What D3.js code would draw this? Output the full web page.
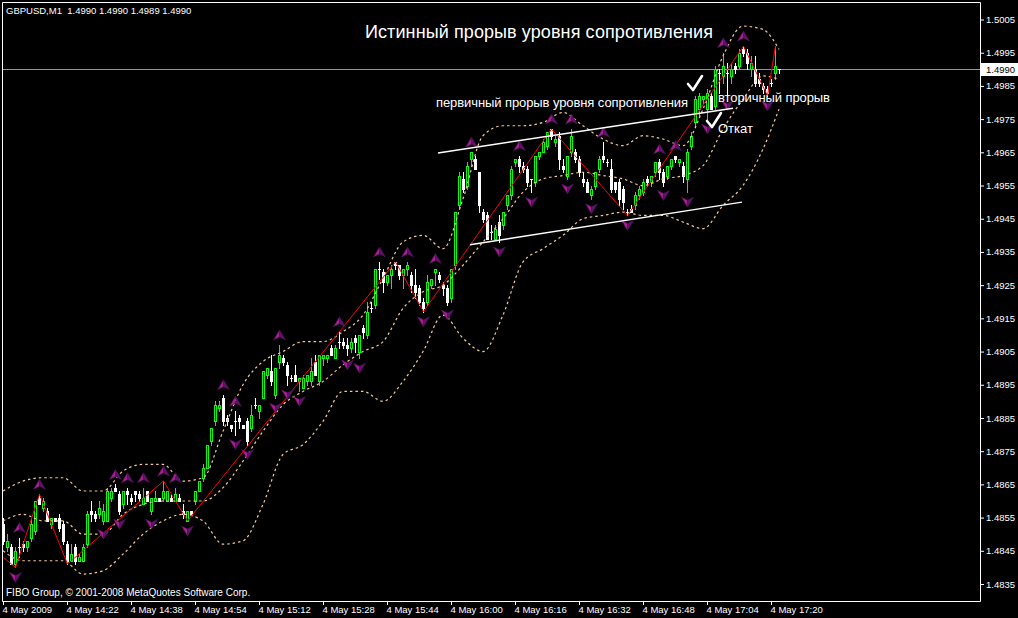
<!DOCTYPE html>
<html>
<head>
<meta charset="utf-8">
<script src="https://cdn.jsdelivr.net/npm/d3@7/dist/d3.min.js"></script>
<style>
html,body{margin:0;padding:0;background:#000;overflow:hidden;}
svg{display:block;}
text{font-family:"Liberation Sans",Arial,sans-serif;}
</style>
</head>
<body>
<svg id="chart" width="1018" height="618"></svg>
<script>
const headerText = "GBPUSD,M1  1.4990 1.4990 1.4989 1.4990";
const footerText = "FIBO Group, \u00A9 2001-2008 MetaQuotes Software Corp.";
const titleText = "Истинный прорыв уровня сопротивления";
const noteTexts = ["первичный прорыв уровня сопротивления", "вторичный прорыв", "Откат"];

const priceTicks = [1.4835,1.4845,1.4855,1.4865,1.4875,1.4885,1.4895,1.4905,1.4915,1.4925,1.4935,1.4945,1.4955,1.4965,1.4975,1.4985,1.4995,1.5005];
const timeTickIndex = [0,16,32,48,64,80,96,112,128,144,160,176,192];
const timeTickLabels = ["4 May 2009","4 May 14:22","4 May 14:38","4 May 14:54","4 May 15:12","4 May 15:28","4 May 15:44","4 May 16:00","4 May 16:16","4 May 16:32","4 May 16:48","4 May 17:04","4 May 17:20"];
const currentPrice = 1.4990;

const opens = [
1.4853,1.4846,1.4846,1.4841,1.4846,1.4847,1.4846,1.4849,1.4851,1.4861,
1.4858,1.4857,1.4853,1.4855,1.4855,1.4853,1.4847,1.4842,1.4846,1.4842,
1.4842,1.4847,1.4857,1.4856,1.4856,1.4854,1.4854,1.4861,1.4864,1.4862,
1.4859,1.4863,1.4861,1.4863,1.4862,1.4859,1.4863,1.4857,1.4860,1.4861,
1.4861,1.4860,1.4861,1.4860,1.4861,1.4857,1.4854,1.4857,1.4860,1.4863,
1.4867,1.4870,1.4878,1.4884,1.4888,1.4891,1.4885,1.4883,1.4884,1.4885,
1.4883,1.4884,1.4882,1.4889,1.4887,1.4891,1.4898,1.4899,1.4892,1.4902,
1.4903,1.4901,1.4897,1.4898,1.4896,1.4894,1.4896,1.4896,1.4902,1.4896,
1.4903,1.4903,1.4906,1.4903,1.4908,1.4908,1.4907,1.4906,1.4909,1.4905,
1.4912,1.4910,1.4918,1.4919,1.4930,1.4929,1.4926,1.4928,1.4932,1.4931,
1.4928,1.4930,1.4928,1.4925,1.4924,1.4920,1.4920,1.4925,1.4929,1.4928,
1.4925,1.4924,1.4921,1.4931,1.4949,1.4957,1.4955,1.4963,1.4963,1.4959,
1.4947,1.4946,1.4941,1.4939,1.4944,1.4943,1.4949,1.4952,1.4962,1.4963,
1.4961,1.4960,1.4957,1.4956,1.4964,1.4965,1.4967,1.4972,1.4968,1.4970,
1.4961,1.4958,1.4965,1.4965,1.4963,1.4957,1.4956,1.4952,1.4955,1.4960,
1.4964,1.4962,1.4960,1.4956,1.4956,1.4954,1.4947,1.4948,1.4949,1.4952,
1.4953,1.4957,1.4956,1.4959,1.4962,1.4959,1.4958,1.4961,1.4964,1.4962,
1.4961,1.4957,1.4967,1.4974,1.4978,1.4981,1.4978,1.4982,1.4979,1.4989,
1.4988,1.4989,1.4988,1.4991,1.4991,1.4996,1.4995,1.4990,1.4990,1.4987,
1.4985,1.4984,1.4986,1.4989,1.4990];
const highs = [
1.4855,1.4850,1.4847,1.4846,1.4849,1.4848,1.4848,1.4855,1.4860,1.4862,
1.4861,1.4858,1.4855,1.4855,1.4856,1.4854,1.4848,1.4847,1.4847,1.4844,
1.4847,1.4857,1.4860,1.4857,1.4860,1.4859,1.4864,1.4864,1.4865,1.4863,
1.4863,1.4864,1.4862,1.4863,1.4863,1.4864,1.4863,1.4861,1.4863,1.4861,
1.4866,1.4863,1.4862,1.4864,1.4862,1.4859,1.4857,1.4857,1.4863,1.4866,
1.4871,1.4877,1.4882,1.4890,1.4890,1.4892,1.4886,1.4883,1.4887,1.4886,
1.4883,1.4885,1.4889,1.4891,1.4889,1.4899,1.4900,1.4904,1.4900,1.4907,
1.4904,1.4902,1.4898,1.4901,1.4897,1.4898,1.4898,1.4903,1.4904,1.4904,
1.4904,1.4904,1.4907,1.4907,1.4911,1.4909,1.4909,1.4909,1.4910,1.4910,
1.4913,1.4920,1.4920,1.4930,1.4932,1.4930,1.4928,1.4931,1.4932,1.4931,
1.4930,1.4932,1.4929,1.4930,1.4925,1.4921,1.4928,1.4927,1.4930,1.4929,
1.4926,1.4925,1.4930,1.4947,1.4959,1.4959,1.4962,1.4965,1.4964,1.4959,
1.4948,1.4947,1.4943,1.4943,1.4946,1.4947,1.4952,1.4961,1.4963,1.4964,
1.4962,1.4961,1.4957,1.4964,1.4965,1.4969,1.4971,1.4972,1.4970,1.4971,
1.4963,1.4964,1.4972,1.4966,1.4964,1.4959,1.4957,1.4955,1.4959,1.4964,
1.4968,1.4963,1.4963,1.4956,1.4957,1.4955,1.4948,1.4949,1.4953,1.4955,
1.4957,1.4958,1.4958,1.4962,1.4963,1.4960,1.4961,1.4963,1.4964,1.4963,
1.4962,1.4966,1.4971,1.4982,1.4983,1.4982,1.4984,1.4983,1.4991,1.4990,
1.4995,1.4992,1.4992,1.4992,1.4996,1.4997,1.4996,1.4994,1.4994,1.4989,
1.4986,1.4985,1.4987,1.4997,1.4990];
const lows = [
1.4847,1.4845,1.4841,1.4840,1.4843,1.4845,1.4845,1.4848,1.4850,1.4859,
1.4857,1.4854,1.4852,1.4854,1.4851,1.4847,1.4841,1.4842,1.4841,1.4842,
1.4842,1.4846,1.4854,1.4854,1.4855,1.4853,1.4854,1.4860,1.4863,1.4856,
1.4858,1.4859,1.4859,1.4860,1.4860,1.4859,1.4860,1.4856,1.4860,1.4860,
1.4860,1.4860,1.4860,1.4860,1.4860,1.4855,1.4854,1.4856,1.4859,1.4863,
1.4866,1.4870,1.4877,1.4883,1.4887,1.4883,1.4883,1.4881,1.4880,1.4882,
1.4882,1.4877,1.4881,1.4888,1.4885,1.4891,1.4897,1.4895,1.4891,1.4900,
1.4901,1.4895,1.4896,1.4896,1.4893,1.4894,1.4895,1.4895,1.4898,1.4895,
1.4901,1.4902,1.4904,1.4903,1.4906,1.4906,1.4904,1.4905,1.4905,1.4903,
1.4909,1.4909,1.4917,1.4918,1.4927,1.4923,1.4925,1.4924,1.4930,1.4927,
1.4924,1.4928,1.4923,1.4921,1.4919,1.4917,1.4919,1.4924,1.4925,1.4926,
1.4922,1.4919,1.4920,1.4930,1.4948,1.4953,1.4954,1.4961,1.4960,1.4947,
1.4944,1.4939,1.4939,1.4939,1.4938,1.4942,1.4948,1.4951,1.4961,1.4959,
1.4959,1.4955,1.4953,1.4955,1.4963,1.4965,1.4966,1.4969,1.4967,1.4960,
1.4959,1.4957,1.4964,1.4962,1.4958,1.4955,1.4953,1.4951,1.4954,1.4959,
1.4962,1.4961,1.4953,1.4953,1.4949,1.4948,1.4946,1.4947,1.4948,1.4951,
1.4952,1.4955,1.4955,1.4958,1.4957,1.4955,1.4957,1.4960,1.4962,1.4961,
1.4956,1.4953,1.4966,1.4973,1.4976,1.4980,1.4975,1.4978,1.4978,1.4983,
1.4986,1.4982,1.4986,1.4989,1.4990,1.4994,1.4990,1.4988,1.4985,1.4985,
1.4983,1.4982,1.4985,1.4987,1.4989];
const closes = [
1.4848,1.4848,1.4841,1.4845,1.4846,1.4846,1.4848,1.4853,1.4860,1.4859,
1.4860,1.4854,1.4855,1.4854,1.4852,1.4848,1.4842,1.4844,1.4842,1.4843,
1.4846,1.4856,1.4856,1.4855,1.4858,1.4857,1.4863,1.4863,1.4863,1.4857,
1.4863,1.4862,1.4860,1.4862,1.4861,1.4861,1.4860,1.4861,1.4861,1.4860,
1.4863,1.4863,1.4860,1.4862,1.4860,1.4856,1.4857,1.4856,1.4863,1.4866,
1.4870,1.4877,1.4882,1.4889,1.4889,1.4884,1.4884,1.4882,1.4884,1.4884,
1.4882,1.4878,1.4886,1.4889,1.4889,1.4899,1.4900,1.4896,1.4900,1.4904,
1.4902,1.4898,1.4897,1.4896,1.4897,1.4897,1.4898,1.4899,1.4898,1.4904,
1.4904,1.4904,1.4904,1.4906,1.4908,1.4907,1.4906,1.4908,1.4908,1.4910,
1.4911,1.4917,1.4918,1.4930,1.4930,1.4926,1.4928,1.4930,1.4931,1.4928,
1.4930,1.4931,1.4925,1.4923,1.4920,1.4918,1.4926,1.4927,1.4930,1.4927,
1.4924,1.4920,1.4930,1.4947,1.4958,1.4954,1.4961,1.4965,1.4960,1.4949,
1.4945,1.4939,1.4941,1.4942,1.4940,1.4947,1.4952,1.4960,1.4963,1.4961,
1.4960,1.4956,1.4957,1.4964,1.4965,1.4968,1.4971,1.4970,1.4969,1.4963,
1.4960,1.4964,1.4970,1.4963,1.4959,1.4956,1.4953,1.4954,1.4959,1.4963,
1.4963,1.4962,1.4954,1.4954,1.4951,1.4950,1.4947,1.4947,1.4952,1.4954,
1.4956,1.4956,1.4958,1.4962,1.4959,1.4956,1.4961,1.4963,1.4963,1.4963,
1.4958,1.4965,1.4970,1.4981,1.4982,1.4982,1.4983,1.4978,1.4990,1.4989,
1.4991,1.4989,1.4990,1.4990,1.4995,1.4995,1.4992,1.4992,1.4986,1.4986,
1.4984,1.4983,1.4986,1.4991,1.4990];

// Bollinger bands read every 5 bars
const bandIndex = [0,5,10,15,20,25,30,35,40,45,50,55,60,65,70,75,80,85,90,95,100,105,110,115,120,125,130,135,140,145,150,155,160,165,170,175,180,185,190,194];
const bandUpper = [1.4863,1.4866,1.4867,1.4867,1.4863,1.4863,1.4869,1.4871,1.4871,1.4866,1.4867,1.4881,1.4895,1.4902,1.4905,1.4908,1.4908,1.4911,1.4916,1.4927,1.4938,1.4940,1.4936,1.4951,1.4970,1.4973,1.4973,1.4974,1.4977,1.4973,1.4969,1.4967,1.4970,1.4969,1.4967,1.4978,1.4994,1.5003,1.5002,1.4996];
const bandMiddle = [1.4854,1.4856,1.4854,1.4854,1.4850,1.4850,1.4856,1.4859,1.4860,1.4860,1.4860,1.4864,1.4872,1.4881,1.4889,1.4893,1.4896,1.4901,1.4905,1.4908,1.4918,1.4923,1.4925,1.4931,1.4938,1.4945,1.4953,1.4957,1.4958,1.4959,1.4958,1.4957,1.4955,1.4957,1.4958,1.4961,1.4972,1.4981,1.4988,1.4987];
const bandLower = [1.4845,1.4842,1.4842,1.4842,1.4838,1.4839,1.4844,1.4850,1.4854,1.4856,1.4854,1.4847,1.4848,1.4859,1.4874,1.4877,1.4884,1.4893,1.4893,1.4890,1.4896,1.4905,1.4916,1.4909,1.4905,1.4916,1.4932,1.4936,1.4940,1.4945,1.4946,1.4947,1.4946,1.4946,1.4944,1.4942,1.4949,1.4955,1.4966,1.4978];

const zigzagIndex = [0,3,9,16,40,46,98,105,137,156,185,191,193];
const zigzagPrice = [1.4843,1.4840,1.4862,1.4841,1.4866,1.4854,1.4932,1.4917,1.4972,1.4946,1.4997,1.4982,1.4997];

const fractalUp = [4,9,28,31,35,40,43,55,58,69,84,94,101,108,117,129,137,142,150,164,168,180,185];
const fractalDown = [3,25,29,37,46,58,61,68,71,74,86,89,105,111,124,132,141,147,156,165,171,176,181,191];

// hand-drawn trend channel (bar index, price)
const channelUpper = [[108.75,1.49648],[182.5,1.49783]];
const channelLower = [[116.75,1.49372],[184.75,1.49500]];

// ---------------- drawing ----------------
const W = 1018, H = 618;
const FONT = '"Liberation Sans", Arial, sans-serif';
const svg = d3.select("#chart");
svg.append("rect").attr("width", W).attr("height", H).attr("fill", "#000");

const x = d3.scaleLinear().domain([0, 194]).range([3, 779]);
const y = d3.scaleLinear().domain([1.4835, 1.5005]).range([584, 19.5]);

svg.append("defs").append("clipPath").attr("id", "plot")
  .append("rect").attr("x", 3).attr("y", 3).attr("width", 977).attr("height", 598);
const plot = svg.append("g").attr("clip-path", "url(#plot)");

// bid line
const yCur = Math.round(y(currentPrice)) + 0.5;
plot.append("line").attr("x1", 3).attr("x2", 980).attr("y1", yCur).attr("y2", yCur)
  .attr("stroke", "#8a98a8").attr("stroke-width", 1);

// candles
const bars = opens.map((o, i) => ({i, o, h: highs[i], l: lows[i], c: closes[i]}));
const cg = plot.append("g");
const bg = cg.selectAll("g.bar").data(bars).join("g").attr("class", "bar");
const colOf = b => (b.c > b.o ? "#00ff00" : "#ffffff");
bg.append("line")
  .attr("x1", b => Math.round(x(b.i)) + 0.5).attr("x2", b => Math.round(x(b.i)) + 0.5)
  .attr("y1", b => Math.round(y(b.h))).attr("y2", b => Math.round(y(b.l)) + 1)
  .attr("stroke", colOf).attr("stroke-width", 1);
bg.filter(b => b.c > b.o).append("rect")
  .attr("x", b => Math.round(x(b.i)) - 0.5).attr("width", 2)
  .attr("y", b => Math.round(y(b.c)) + 0.5)
  .attr("height", b => Math.max(1, Math.round(y(b.o)) - Math.round(y(b.c))))
  .attr("fill", "#000").attr("stroke", "#00ff00").attr("stroke-width", 1);
bg.filter(b => b.c < b.o).append("rect")
  .attr("x", b => Math.round(x(b.i)) - 1).attr("width", 3)
  .attr("y", b => Math.round(y(b.o)))
  .attr("height", b => Math.round(y(b.c)) - Math.round(y(b.o)) + 1)
  .attr("fill", "#ffffff");
bg.filter(b => b.c === b.o).append("line")
  .attr("x1", b => Math.round(x(b.i)) - 1).attr("x2", b => Math.round(x(b.i)) + 2)
  .attr("y1", b => Math.round(y(b.c)) + 0.5).attr("y2", b => Math.round(y(b.c)) + 0.5)
  .attr("stroke", "#ffffff").attr("stroke-width", 1);

// Bollinger bands
const bandLine = d3.line().x(d => x(d[0])).y(d => y(d[1])).curve(d3.curveMonotoneX);
[bandUpper, bandMiddle, bandLower].forEach(arr => {
  plot.append("path").datum(bandIndex.map((b, k) => [b, arr[k]]))
    .attr("d", bandLine).attr("fill", "none")
    .attr("stroke", "#f3c996").attr("stroke-width", 1.2).attr("stroke-dasharray", "2.5,3");
});

// ZigZag
const zz = zigzagIndex.map((b, k) => [b, zigzagPrice[k]]);
plot.append("path").datum(zz)
  .attr("d", d3.line().x(d => x(d[0]) + 0.5).y(d => y(d[1])))
  .attr("fill", "none").attr("stroke", "#ff0000").attr("stroke-width", 1);

// Fractals
function arrow(sel, up) {
  const s = up ? 1 : -1;
  sel.append("path").attr("d", `M0,${-5*s} L0,${2*s} L-6,${5*s} Z`).attr("fill", "#a8208f");
  sel.append("path").attr("d", `M0,${-5*s} L6,${5*s} L0,${2*s} Z`).attr("fill", "#5e1468");
  sel.append("path").attr("d", `M0,${-5*s} L6,${5*s} L0,${2*s} L-6,${5*s} Z`)
    .attr("fill", "none").attr("stroke", "#4a0f55").attr("stroke-width", 0.6);
}
const fu = plot.selectAll("g.fu").data(fractalUp).join("g").attr("class", "fu")
  .attr("transform", i => `translate(${x(i) + 0.5},${y(highs[i]) - 10})`);
arrow(fu, true);
const fd = plot.selectAll("g.fd").data(fractalDown).join("g").attr("class", "fd")
  .attr("transform", i => `translate(${x(i) + 0.5},${y(lows[i]) + 10})`);
arrow(fd, false);

// channel lines
[channelUpper, channelLower].forEach(c => {
  plot.append("line")
    .attr("x1", x(c[0][0])).attr("y1", y(c[0][1]))
    .attr("x2", x(c[1][0])).attr("y2", y(c[1][1]))
    .attr("stroke", "#ffffff").attr("stroke-width", 1.5);
});

// annotations
svg.append("text").attr("x", 365).attr("y", 38).text(titleText)
  .attr("fill", "#fff").style("font-size", "18px").style("font-family", FONT)
  .attr("textLength", 348);
svg.append("text").attr("x", 436).attr("y", 106.5).text(noteTexts[0])
  .attr("fill", "#fff").style("font-size", "13px").style("font-family", FONT).attr("textLength", 252);
svg.append("text").attr("x", 718).attr("y", 101.5).text(noteTexts[1])
  .attr("fill", "#fff").style("font-size", "13px").style("font-family", FONT).attr("textLength", 112);
svg.append("text").attr("x", 718).attr("y", 132.5).text(noteTexts[2])
  .attr("fill", "#fff").style("font-size", "13px").style("font-family", FONT);
// check marks
[[688, 84], [707, 121]].forEach(p => {
  svg.append("path")
    .attr("d", `M${p[0]},${p[1]} L${p[0]+5},${p[1]+6} L${p[0]+14},${p[1]-8}`)
    .attr("fill", "none").attr("stroke", "#fff").attr("stroke-width", 2.6)
    .attr("stroke-linecap", "round").attr("stroke-linejoin", "round");
});

// header & footer
svg.append("text").attr("x", 6).attr("y", 14).text(headerText)
  .attr("fill", "#fff").style("font-size", "9.5px").style("font-family", FONT)
  .style("white-space", "pre").attr("xml:space", "preserve");
svg.append("text").attr("x", 6).attr("y", 596).text(footerText)
  .attr("fill", "#fff").style("font-size", "10px").style("font-family", FONT);

// frame
svg.append("path").attr("d", "M2.5,2.5H980.5V601.5H2.5Z")
  .attr("fill", "none").attr("stroke", "#fff").attr("stroke-width", 1);

// right price axis
const yAxis = d3.axisRight(y).tickValues(priceTicks).tickSize(4).tickPadding(2)
  .tickFormat(d3.format(".4f"));
const ya = svg.append("g").attr("transform", "translate(980,0)").call(yAxis);
ya.select(".domain").remove();
ya.selectAll(".tick line").attr("stroke", "#fff");
ya.selectAll(".tick text").attr("fill", "#fff").style("font-size", "9.5px").style("font-family", FONT);

// current price label
svg.append("rect").attr("x", 981).attr("y", Math.round(y(currentPrice)) - 6).attr("width", 37).attr("height", 13)
  .attr("fill", "#fff");
svg.append("text").attr("x", 986).attr("y", y(currentPrice)).attr("dy", "0.34em")
  .text(d3.format(".4f")(currentPrice)).attr("fill", "#000")
  .style("font-size", "9.5px").style("font-family", FONT);

// bottom time axis
const xAxis = d3.axisBottom(x).tickValues(timeTickIndex).tickSize(4)
  .tickFormat((d, i) => timeTickLabels[i]);
const xa = svg.append("g").attr("transform", "translate(0,601)").call(xAxis);
xa.select(".domain").remove();
xa.selectAll(".tick line").attr("stroke", "#fff");
xa.selectAll(".tick text").attr("fill", "#fff").attr("text-anchor", "start")
  .attr("x", -1).attr("y", 12).attr("dy", 0)
  .style("font-size", "9.5px").style("font-family", FONT);
</script>
</body>
</html>
